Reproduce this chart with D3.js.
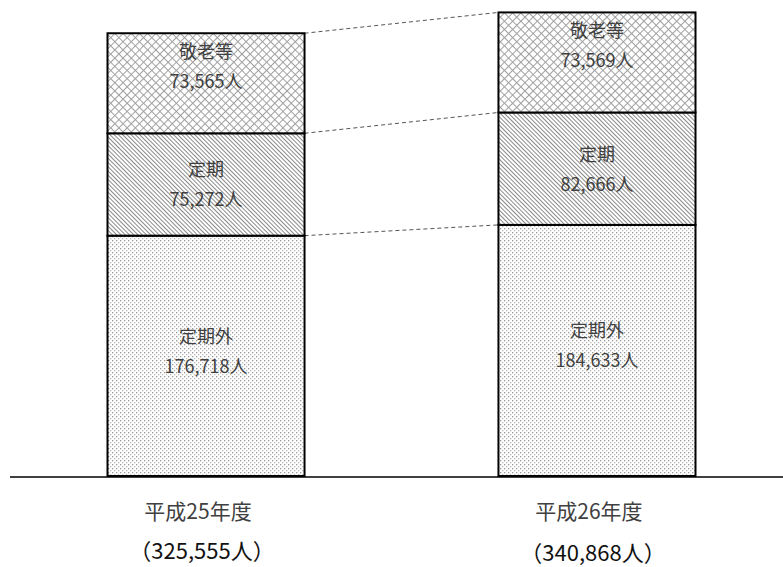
<!DOCTYPE html>
<meta charset="utf-8">
<style>
  body { margin: 0; background: #fff; }
  svg { display: block; font-family: "Noto Sans CJK JP", "Noto Sans", sans-serif; }
  .bar { stroke: #000; stroke-width: 2px; }
  .link { stroke: #555; stroke-width: 1px; stroke-dasharray: 4,3; }
  .baseline { stroke: #000; stroke-width: 1.5px; }
  .segName, .segVal { fill: #404040; font-size: 18px; text-anchor: middle; }
  .year { fill: #404040; font-size: 21px; text-anchor: middle; }
  .total { fill: #111; font-size: 22px; text-anchor: middle; }
</style>
<body>
<script src="https://cdn.jsdelivr.net/npm/d3@7"></script>
<script>

const years = ["平成25年度", "平成26年度"];
const kinds = ["定期外", "定期", "敬老等"];
const teikigai = [176718, 184633];
const teiki = [75272, 82666];
const keirou = [73565, 73569];

const W = 783, H = 567;
const svg = d3.select("body").append("svg")
  .attr("width", W)
  .attr("height", H);

// fill patterns
const defs = svg.append("defs");
const dots = defs.append("pattern")
  .attr("id", "p0").attr("patternUnits", "userSpaceOnUse")
  .attr("width", 4).attr("height", 4);
dots.append("rect").attr("width", 4).attr("height", 4).attr("fill", "#fff");
dots.append("rect").attr("x", 0).attr("y", 0).attr("width", 1.3).attr("height", 1.3).attr("fill", "#999");
dots.append("rect").attr("x", 2).attr("y", 2).attr("width", 1.3).attr("height", 1.3).attr("fill", "#bbb");

const diag = defs.append("pattern")
  .attr("id", "p1").attr("patternUnits", "userSpaceOnUse")
  .attr("width", 3).attr("height", 3)
  .attr("patternTransform", "rotate(-45)");
diag.append("rect").attr("width", 3).attr("height", 3).attr("fill", "#fff");
diag.append("line").attr("x1", 0.5).attr("y1", 0).attr("x2", 0.5).attr("y2", 3)
  .attr("stroke", "#8a8a8a").attr("stroke-width", 1);

const cross = defs.append("pattern")
  .attr("id", "p2").attr("patternUnits", "userSpaceOnUse")
  .attr("width", 5.8).attr("height", 5.8)
  .attr("patternTransform", "rotate(45)");
cross.append("rect").attr("width", 5.8).attr("height", 5.8).attr("fill", "#fff");
cross.append("line").attr("x1", 0.5).attr("y1", 0).attr("x2", 0.5).attr("y2", 5.8)
  .attr("stroke", "#a0a0a0").attr("stroke-width", 1);
cross.append("line").attr("x1", 0).attr("y1", 0.5).attr("x2", 5.8).attr("y2", 0.5)
  .attr("stroke", "#a0a0a0").attr("stroke-width", 1);

const rows = years.map((y, i) => ({
  year: y, "定期外": teikigai[i], "定期": teiki[i], "敬老等": keirou[i]
}));
const series = d3.stack().keys(kinds)(rows);

const x = d3.scaleBand()
  .domain(years)
  .range([107.5, 695.5])
  .paddingInner(0.496)
  .paddingOuter(0);
const y = d3.scaleLinear()
  .domain([0, 350000])
  .range([476, 0]);

// dashed links between the bars
const tops = [0, 1, 2].map(k => series[k].map(d => y(d[1])));
svg.selectAll(".link")
  .data(tops)
  .enter().append("line")
    .attr("class", "link")
    .attr("x1", x(years[0]) + x.bandwidth())
    .attr("x2", x(years[1]))
    .attr("y1", d => d[0])
    .attr("y2", d => d[1]);

const layer = svg.selectAll(".layer")
  .data(series)
  .enter().append("g")
    .attr("class", "layer")
    .attr("fill", (d, i) => "url(#p" + i + ")");

layer.selectAll("rect")
  .data(d => d)
  .enter().append("rect")
    .attr("class", "bar")
    .attr("x", d => x(d.data.year))
    .attr("y", d => y(d[1]))
    .attr("width", x.bandwidth())
    .attr("height", d => y(d[0]) - y(d[1]));

// segment labels
const fmt = d3.format(",");
series.forEach(s => {
  const lift = s.key === "敬老等" ? -17 : (s.key === "定期外" ? -5 : 0);
  s.forEach(d => {
    const cx = x(d.data.year) + x.bandwidth() / 2;
    const mid = (y(d[0]) + y(d[1])) / 2 + lift;
    svg.append("text").attr("class", "segName")
      .attr("x", cx).attr("y", mid - 8)
      .text(s.key);
    svg.append("text").attr("class", "segVal")
      .attr("x", cx).attr("y", mid + 22)
      .text(fmt(d.data[s.key]) + "人");
  });
});

// baseline
svg.append("line")
  .attr("class", "baseline")
  .attr("x1", 10).attr("x2", W)
  .attr("y1", 477).attr("y2", 477);

// year labels and totals
years.forEach((yr, i) => {
  const cx = x(yr) + x.bandwidth() / 2;
  const total = d3.sum(kinds, k => rows[i][k]);
  svg.append("text").attr("class", "year")
    .attr("x", cx - 8).attr("y", 519)
    .text(yr);
  svg.append("text").attr("class", "total")
    .attr("x", cx - 4).attr("y", 559 + i * 2)
    .text("（" + fmt(total) + "人）");
});

</script>
</body>
